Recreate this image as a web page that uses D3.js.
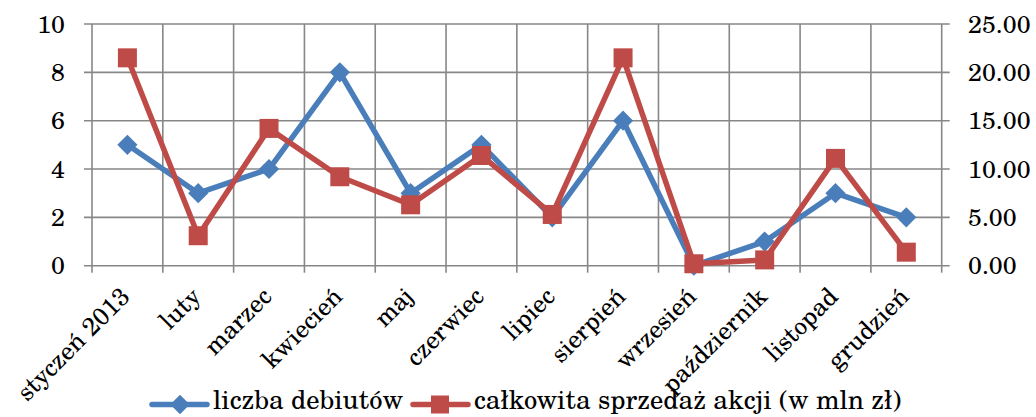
<!DOCTYPE html>
<html><head><meta charset="utf-8">
<script src="https://cdn.jsdelivr.net/npm/d3@7"></script>
<style>body{margin:0;background:#fff}svg{display:block}</style>
</head><body><svg id="c" width="1036" height="417"></svg>
<script>
const categories = ["styczeń 2013","luty","marzec","kwiecień","maj","czerwiec","lipiec","sierpień","wrzesień","październik","listopad","grudzień"];
const debuts = [5,3,4,8,3,5,2,6,0,1,3,2];
const sales = [21.5,3.1,14.2,9.2,6.3,11.4,5.3,21.5,0.2,0.6,11.1,1.4];
const leftTicks = [0,2,4,6,8,10];
const rightTicks = [0,5,10,15,20,25];
const seriesNames = ["liczba debiutów","całkowita sprzedaż akcji (w mln zł)"];
const blue = "#4A7EBB", red = "#BE4B48", grid = "#878787";
const FONT = '"TeX Gyre Schola","DejaVu Serif",serif';

const svg = d3.select("#c");
const L = 92, R = 941.7, T = 24, B = 265.7;
const x = d3.scaleBand().domain(categories).range([L, R]);
const yL = d3.scaleLinear().domain([0,10]).range([B, T]);
const yR = d3.scaleLinear().domain([0,25]).range([B, T]);
const cx = d => x(d) + x.bandwidth()/2;

svg.append("g").selectAll("line").data(leftTicks).join("line")
  .attr("x1", L-8).attr("x2", R+8).attr("y1", d=>yL(d)).attr("y2", d=>yL(d))
  .attr("stroke", grid).attr("stroke-width", 1.6);
const bounds = categories.map(c => x(c)).concat([R]);
svg.append("g").selectAll("line").data(bounds).join("line")
  .attr("x1", d=>d).attr("x2", d=>d).attr("y1", T).attr("y2", B+7)
  .attr("stroke", grid).attr("stroke-width", 1.6);

svg.append("g").selectAll("text").data(leftTicks).join("text")
  .attr("x", 65).attr("y", d=>yL(d)).attr("dy","0.35em").attr("text-anchor","end")
  .style("font-family",FONT).style("font-size","25px").text(d=>d);
svg.append("g").selectAll("text").data(rightTicks).join("text")
  .attr("x", 968).attr("y", d=>yR(d)).attr("dy","0.35em").attr("text-anchor","start")
  .style("font-family",FONT).style("font-size","25px").text(d=>d3.format(".2f")(d));
svg.append("g").selectAll("text").data(categories).join("text")
  .attr("transform", d=>`translate(${cx(d)+4},${298}) rotate(-45)`)
  .attr("text-anchor","end").style("font-family",FONT).style("font-size","25px").text(d=>d);

const lineL = d3.line().x((d,i)=>cx(categories[i])).y(d=>yL(d));
const lineR = d3.line().x((d,i)=>cx(categories[i])).y(d=>yR(d));
svg.append("path").attr("d", lineL(debuts)).attr("fill","none").attr("stroke",blue).attr("stroke-width",5.5).attr("stroke-linejoin","round");
svg.append("g").selectAll("path").data(debuts).join("path")
  .attr("d", d3.symbol(d3.symbolDiamond2, 260)())
  .attr("transform",(d,i)=>`translate(${cx(categories[i])},${yL(d)})`)
  .attr("fill",blue);
svg.append("path").attr("d", lineR(sales)).attr("fill","none").attr("stroke",red).attr("stroke-width",5.5).attr("stroke-linejoin","round");
svg.append("g").selectAll("rect").data(sales).join("rect")
  .attr("x",(d,i)=>cx(categories[i])-9.5).attr("y",d=>yR(d)-9.5)
  .attr("width",19).attr("height",19).attr("fill",red);

const lg = svg.append("g");
function legendItem(x0, color, marker, label){
  lg.append("line").attr("x1",x0).attr("x2",x0+55).attr("y1",404.5).attr("y2",404.5)
    .attr("stroke",color).attr("stroke-width",5.5).attr("stroke-linecap","round");
  if(marker==="d") lg.append("path").attr("d", d3.symbol(d3.symbolDiamond2, 240)()).attr("transform",`translate(${x0+28},404.5)`).attr("fill",color);
  else lg.append("rect").attr("x",x0+18).attr("y",395.5).attr("width",18).attr("height",18).attr("fill",color);
  lg.append("text").attr("x",x0+61).attr("y",408.5).style("font-family",FONT).style("font-size","26.5px").text(label);
}
legendItem(152, blue, "d", seriesNames[0]);
legendItem(413, red, "s", seriesNames[1]);
</script></body></html>
